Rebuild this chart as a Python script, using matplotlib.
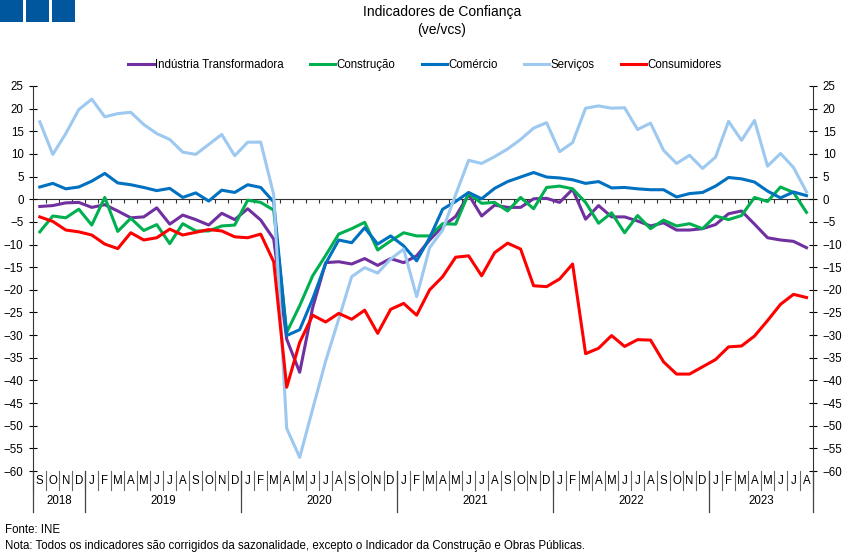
import numpy as np
import matplotlib
matplotlib.use("Agg")
import matplotlib.pyplot as plt
from matplotlib.patches import Rectangle
from matplotlib.lines import Line2D

plt.rcParams['font.family'] = ['Liberation Sans', 'DejaVu Sans']

# Sep 2018 .. Aug 2023 (60 months)
months = ["S", "O", "N", "D"] + list("JFMAMJJASOND") * 4 + list("JFMAMJJA")
years = ["2018", "2019", "2020", "2021", "2022", "2023"]
year_len = [4, 12, 12, 12, 12, 8]

industria = [-1.6, -1.4, -0.8, -0.7, -1.8, -1.2, -2.6, -4.1, -3.9, -1.9, -5.5, -3.5,
             -4.5, -5.7, -3.1, -4.5, -2.1, -4.6, -8.8, -30.9, -38.2, -23.9, -14.0, -13.8,
             -14.3, -13.1, -14.6, -13.1, -14.0, -12.5, -9.0, -6.0, -3.8, 1.0, -3.7, -1.3,
             -1.8, -1.8, 0.1, 0.2, -0.7, 2.2, -4.4, -1.4, -3.9, -3.9, -4.8, -5.9,
             -5.2, -6.8, -6.8, -6.5, -5.6, -3.2, -2.6, -5.5, -8.5, -9.0, -9.3, -10.7]
construcao = [-7.2, -3.7, -4.1, -2.2, -5.7, 0.4, -7.1, -4.2, -6.9, -5.6, -9.8, -5.4,
              -7.0, -7.0, -5.9, -5.7, -0.2, -0.7, -2.4, -29.4, -23.5, -16.9, -12.4, -7.7,
              -6.5, -5.1, -11.2, -9.2, -7.4, -8.1, -8.1, -5.4, -5.5, 1.3, -0.9, -0.7,
              -2.6, 0.4, -2.1, 2.6, 2.9, 2.3, -0.7, -5.3, -3.0, -7.4, -3.6, -6.5,
              -4.6, -5.9, -5.4, -6.5, -3.7, -4.5, -3.6, 0.4, -0.5, 2.7, 1.5, -2.9]
comercio = [2.7, 3.5, 2.3, 2.7, 4.0, 5.7, 3.6, 3.2, 2.6, 1.9, 2.4, 0.4,
            1.4, -0.4, 2.0, 1.5, 3.2, 2.6, -0.6, -30.1, -28.8, -22.0, -14.2, -9.0,
            -9.6, -6.3, -9.9, -8.1, -10.3, -13.6, -8.5, -2.2, -0.5, 1.5, 0.1, 2.4,
            3.9, 4.9, 5.9, 4.9, 4.7, 4.3, 3.5, 3.9, 2.5, 2.6, 2.3, 2.1,
            2.1, 0.5, 1.25, 1.5, 2.9, 4.8, 4.5, 3.8, 1.8, 0.3, 1.6, 0.8]
servicos = [17.1, 9.9, 14.5, 19.8, 22.1, 18.2, 18.9, 19.2, 16.5, 14.5, 13.2, 10.4,
            9.9, 12.1, 14.3, 9.6, 12.6, 12.6, 1.0, -50.6, -57.0, -46.3, -35.7, -26.5,
            -17.1, -15.1, -16.3, -13.2, -11.0, -21.5, -10.7, -6.8, 1.0, 8.6, 7.9, 9.4,
            11.1, 13.2, 15.7, 16.9, 10.5, 12.5, 20.1, 20.6, 20.1, 20.2, 15.4, 16.8,
            10.8, 7.9, 9.7, 6.8, 9.3, 17.2, 13.0, 17.4, 7.3, 10.1, 7.0, 1.6]
consumidores = [-3.9, -4.9, -6.8, -7.2, -7.9, -9.9, -10.9, -7.4, -9.0, -8.5, -6.6, -7.9,
                -7.3, -6.7, -7.0, -8.3, -8.5, -7.7, -13.8, -41.5, -31.6, -25.6, -27.1, -25.2,
                -26.5, -24.5, -29.6, -24.3, -23.0, -25.6, -20.0, -17.1, -12.8, -12.5, -16.9, -11.8,
                -9.7, -11.0, -19.1, -19.3, -17.6, -14.3, -34.1, -32.9, -30.1, -32.5, -31.0, -31.1,
                -35.9, -38.6, -38.6, -37.0, -35.4, -32.6, -32.4, -30.2, -26.8, -23.2, -21.0, -21.7]

series = [
    ("Indústria Transformadora", industria, "#7030A0"),
    ("Construção", construcao, "#00B050"),
    ("Comércio", comercio, "#0070C0"),
    ("Serviços", servicos, "#9DC8F0"),
    ("Consumidores", consumidores, "#FF0000"),
]

W, H = 850, 554
fs = 8.3
fig = plt.figure(figsize=(W / 100, H / 100), dpi=100)
x0, x1, ytop, ybot = 33.3, 813, 86, 471
ax = fig.add_axes([x0 / W, 1 - ybot / H, (x1 - x0) / W, (ybot - ytop) / H])

x = np.arange(len(months))
for name, vals, col in series:
    ax.plot(x, vals, color=col, lw=2.2, label=name, solid_joinstyle='round')

ax.set_xlim(-0.5, len(months) - 0.5)
ax.set_ylim(-60, 25)
ax.set_yticks(np.arange(-60, 26, 5))
ax.tick_params(axis='y', direction='inout', length=6, width=0.8, labelsize=fs,
               left=True, right=True, labelleft=True, labelright=True, pad=4)
ax.set_xticks([])
for s in ['top', 'bottom']:
    ax.spines[s].set_visible(False)
for s in ['left', 'right']:
    ax.spines[s].set_linewidth(0.8)
    ax.spines[s].set_color('#333333')

# zero line with month ticks
ax.axhline(0, color='#333333', lw=0.8, zorder=1)
ax.vlines(x[:-1] + 0.5, -0.9, 0, color='#333333', lw=0.8, zorder=1)

# month / year labels under the plot
trans = ax.get_xaxis_transform()
m_sep = -(490 - 471) / 385
y_sep = -(512 - 471) / 385
for i, m in enumerate(months):
    ax.text(i, -(481 - 471) / 385, m, transform=trans, ha='center', va='center', fontsize=fs)
for b in range(len(months) + 1):
    ax.plot([b - 0.5, b - 0.5], [0, m_sep], transform=trans, color='#666666', lw=0.8, clip_on=False)
start = 0
for yr, n in zip(years, year_len):
    ax.text(start + n / 2 - 0.5, -(501 - 471) / 385, yr, transform=trans, ha='center', va='center', fontsize=fs)
    ax.plot([start - 0.5, start - 0.5], [0, y_sep], transform=trans, color='#444444', lw=0.9, clip_on=False)
    start += n
ax.plot([start - 0.5, start - 0.5], [0, y_sep], transform=trans, color='#444444', lw=0.9, clip_on=False)

# header logo blocks
for bx in [0, 26, 52]:
    fig.patches.append(Rectangle((bx / W, 1 - 22 / H), 23 / W, 22 / H, transform=fig.transFigure,
                                 facecolor='#00579E', edgecolor='none'))

fig.text(442 / W, 1 - 12 / H, "Indicadores de Confiança", ha='center', va='center', fontsize=10)
fig.text(442 / W, 1 - 30 / H, "(ve/vcs)", ha='center', va='center', fontsize=10)

handles = [Line2D([], [], color=c, lw=2.2) for _, _, c in series]
fig.legend(handles, [n for n, _, _ in series], loc='center', bbox_to_anchor=(0.5, 1 - 65 / H),
           ncol=5, frameon=False, fontsize=fs, handlelength=2.2, handletextpad=0.1, columnspacing=2.3)

fig.text(5 / W, 1 - 530 / H, "Fonte: INE", ha='left', va='center', fontsize=fs)
fig.text(5 / W, 1 - 546 / H,
         "Nota: Todos os indicadores são corrigidos da sazonalidade, excepto o Indicador da Construção e Obras Públicas.",
         ha='left', va='center', fontsize=fs)

fig.savefig("out.png", dpi=100)
